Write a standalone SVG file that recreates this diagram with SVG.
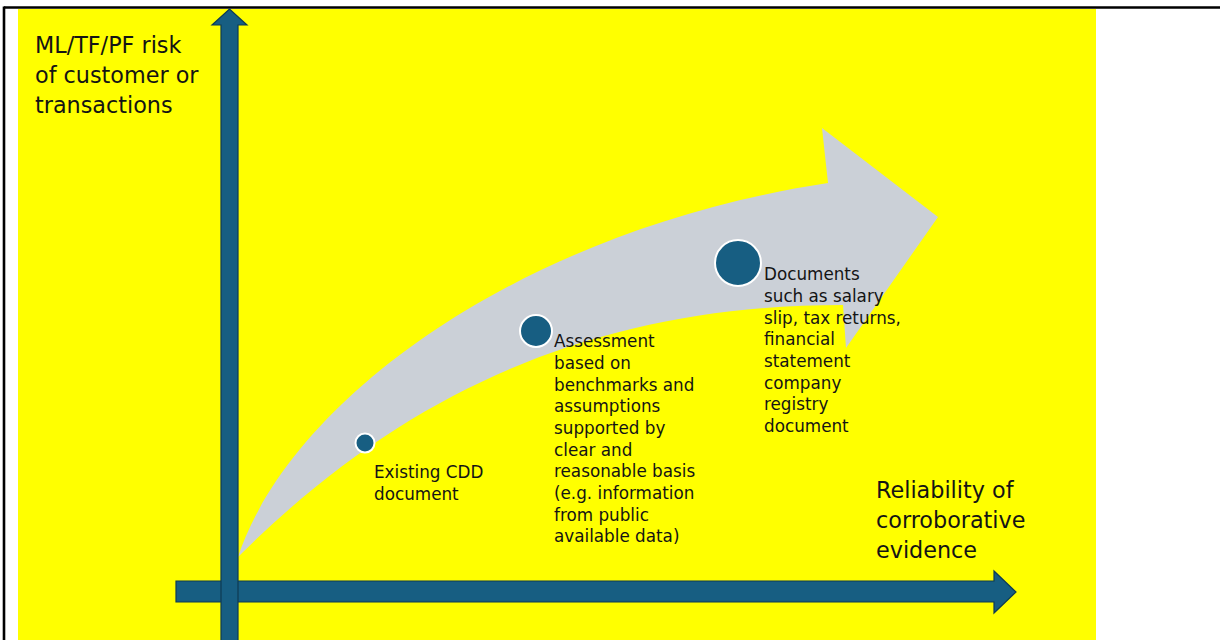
<svg xmlns="http://www.w3.org/2000/svg" width="1220" height="640" viewBox="0 0 1220 640">
<style>
.axis{fill:#175e82;stroke:#0e3b53;stroke-width:1.2}
.dot{fill:#175e82;stroke:#ffffff;stroke-width:2}
.t{font-family:"DejaVu Sans","Open Sans",sans-serif;fill:#141414}
.big{font-size:22.3px}
.small{font-size:16.8px}
</style>
<rect width="1220" height="640" fill="#ffffff"/>
<rect x="18" y="9" width="1078" height="631" fill="#ffff00"/>
<line x1="4" y1="7.5" x2="1220" y2="7.5" stroke="#000" stroke-width="2.6"/>
<line x1="4" y1="6.5" x2="4" y2="640" stroke="#000" stroke-width="2.6"/>
<g id="curved-arrow">
<path d="M238,557 C290,400 520,230 828,183 L822,128 L938,217 L846,348 L843,305 C620,305 420,375 238,557 Z" fill="#cbd0d7"/>
</g>
<g id="connectors">
<path id="x-axis" class="axis" d="M176,581 L994,581 L994,571 L1016,592 L994,613 L994,602 L176,602 Z"/>
<path id="y-axis" class="axis" d="M221,645 L221,25 L212,25 L229.5,9 L247,25 L238,25 L238,645 Z"/>
</g>
<g id="y-label">
<text class="t big" x="35" y="53">ML/TF/PF risk</text>
<text class="t big" x="35" y="83">of customer or</text>
<text class="t big" x="35" y="113">transactions</text>
</g>
<g id="x-label">
<text class="t big" x="876" y="498">Reliability of</text>
<text class="t big" x="876" y="528">corroborative</text>
<text class="t big" x="876" y="558">evidence</text>
</g>
<g id="node-existing">
<circle class="dot" cx="365" cy="443" r="9.5"/>
<text class="t small" x="374" y="478">Existing CDD</text>
<text class="t small" x="374" y="500">document</text>
</g>
<g id="node-assessment">
<circle class="dot" cx="536" cy="331" r="16"/>
<text class="t small" x="554" y="347">Assessment</text>
<text class="t small" x="554" y="369">based on</text>
<text class="t small" x="554" y="390.5">benchmarks and</text>
<text class="t small" x="554" y="412">assumptions</text>
<text class="t small" x="554" y="434">supported by</text>
<text class="t small" x="554" y="455.5">clear and</text>
<text class="t small" x="554" y="477">reasonable basis</text>
<text class="t small" x="554" y="499">(e.g. information</text>
<text class="t small" x="554" y="520.5">from public</text>
<text class="t small" x="554" y="542">available data)</text>
</g>
<g id="node-documents">
<circle class="dot" cx="738" cy="263" r="23"/>
<text class="t small" x="764" y="280">Documents</text>
<text class="t small" x="764" y="302">such as salary</text>
<text class="t small" x="764" y="323.5">slip, tax returns,</text>
<text class="t small" x="764" y="345">financial</text>
<text class="t small" x="764" y="367">statement</text>
<text class="t small" x="764" y="388.5">company</text>
<text class="t small" x="764" y="410">registry</text>
<text class="t small" x="764" y="432">document</text>
</g>
</svg>
